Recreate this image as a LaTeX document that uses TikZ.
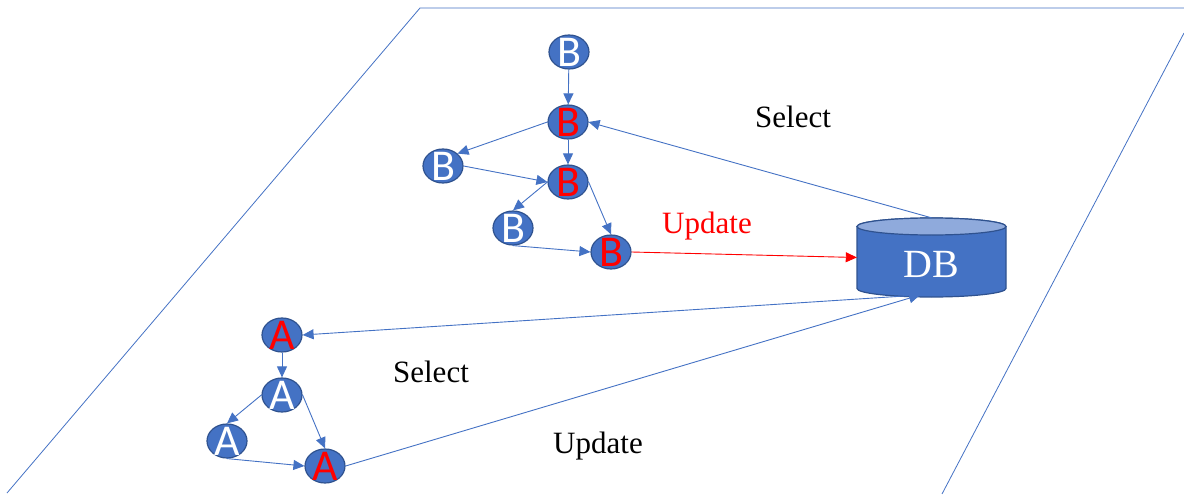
\documentclass[tikz,border=0pt]{standalone}
\usepackage{fontspec}
\setmainfont{Liberation Serif}
\newfontfamily\letterfont{Carlito}
\usetikzlibrary{arrows.meta,shapes.geometric}
\definecolor{accent}{HTML}{4472C4}
\definecolor{rim}{HTML}{2F528F}
\definecolor{lid}{HTML}{8FAADC}
\begin{document}
\begin{tikzpicture}[x=1pt,y=-1pt,
  plane/.style={draw=accent, line width=0.8pt},
  vertex/.style={ellipse, fill=accent, draw=rim, line width=1.2pt,
    minimum width=40pt, minimum height=34pt, inner sep=0pt},
  letter/.style={font=\letterfont\fontsize{44}{44}\selectfont, inner sep=0pt},
  plain/.style={vertex, label={[letter, text=white]center:#1}},
  marked/.style={vertex, label={[letter, text=red]center:#1}},
  link/.style={draw=accent, line width=0.9pt, -{Triangle[length=11pt,width=10pt]}},
  hotlink/.style={draw=red, line width=0.9pt, -{Triangle[length=11pt,width=10pt]}},
  caption/.style={font=\fontsize{31}{31}\selectfont, anchor=base, inner sep=0pt}]
\useasboundingbox (0,0) rectangle (1184,495);

% the plane
\draw[plane] (7,493) -- (420,8) -- (1184,8);
\draw[plane] (1184,33) -- (942,494);

% database cylinder
\path[draw=rim, fill=accent, line width=1.2pt]
  (857,226.5) -- (857,288.5)
  arc[start angle=180, end angle=0, x radius=74.5, y radius=8.5]
  -- (1006,226.5)
  arc[start angle=0, end angle=-180, x radius=74.5, y radius=8.5] -- cycle;
\draw[draw=rim, fill=lid, line width=1.2pt] (931.5,226.5) ellipse[x radius=74.5, y radius=8.5];
\node[rectangle, minimum width=149pt, minimum height=79pt, inner sep=0pt] (db) at (931.5,257.5) {};
\node[text=white, font=\fontsize{40}{40}\selectfont, anchor=base, inner sep=0pt] (dblabel) at (931.5,277) {DB};
\coordinate (dbfoot) at (920,295);

% B graph
\node[plain=B]  (b1) at (569,52)  {};
\node[marked=B] (b2) at (568,122) {};
\node[plain=B]  (b3) at (443,166) {};
\node[marked=B] (b4) at (568,182) {};
\node[plain=B]  (b5) at (513,228) {};
\node[marked=B] (b6) at (611,252) {};

% A graph
\node[marked=A] (a1) at (282,335) {};
\node[plain=A]  (a2) at (282,395) {};
\node[plain=A]  (a3) at (227,441) {};
\node[marked=A] (a4) at (325,466) {};

% captions
\node[caption] (sel1) at (793,128) {Select};
\node[caption, text=red] (upd1) at (707,233) {Update};
\node[caption] (sel2) at (431,382) {Select};
\node[caption] (upd2) at (598,453) {Update};

% B edges
\draw[link] (b1) -- (b2);
\draw[link] (b2.west) -- (b3.north east);
\draw[link] (b2) -- (b4);
\draw[link] (b3.east) -- (b4.west);
\draw[link] (b4.west) -- (b5.north);
\draw[link] (b4.east) -- (b6.north);
\draw[link] (b5.south) -- (b6.west);

% A edges
\draw[link] (a1) -- (a2);
\draw[link] (a2.west) -- (a3.north);
\draw[link] (a2.east) -- (a4.north);
\draw[link] (a3.south) -- (a4.west);

% database traffic
\draw[link] (db.north) -- (b2.east);
\draw[hotlink] (b6.east) -- (db.west);
\draw[link] (dbfoot) -- (a1.east);
\draw[link] (a4.east) -- (dbfoot);
\end{tikzpicture}
\end{document}
